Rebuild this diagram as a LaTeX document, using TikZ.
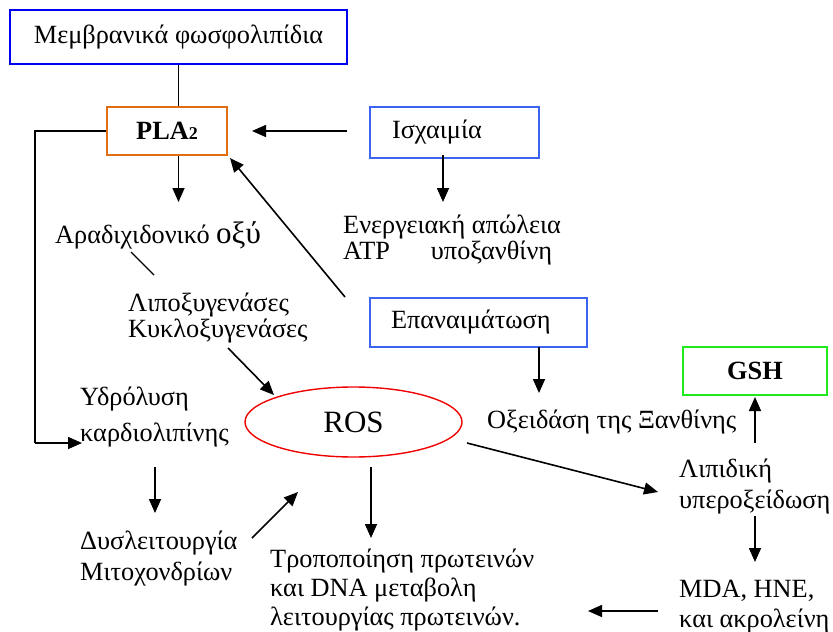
\documentclass[tikz,border=0pt]{standalone}
\usepackage{fontspec}
\setmainfont{Liberation Serif}
\usetikzlibrary{arrows.meta,shapes.geometric,calc}
\definecolor{bxblue}{RGB}{0,0,240}
\definecolor{bxlblue}{RGB}{60,100,240}
\definecolor{bxorange}{RGB}{225,110,20}
\definecolor{bxgreen}{RGB}{30,235,30}
\definecolor{bxred}{RGB}{240,0,0}
\begin{document}
\begin{tikzpicture}[x=1pt,y=-1pt,
  txt/.style={font=\fontsize{26.3}{#1}\selectfont, inner sep=0pt, anchor=base west, align=left},
  txt/.default=30,
  bx/.style={draw, line width=1.6pt, inner sep=0pt, font=\fontsize{26.3}{28}\selectfont},
  arr/.style={-{Triangle[length=14pt,width=12pt]}, line width=1.6pt},
  ln/.style={line width=1.4pt}]
\useasboundingbox (0,0) rectangle (833,632);
% boxes
\node[bx, draw=bxblue, minimum width=337pt, minimum height=54pt] (memb) at (178.5,37) {Μεμβρανικά φωσφολιπίδια};
\node[bx, draw=bxorange, minimum width=120pt, minimum height=48pt] (pla) at (167,131) {\bfseries PLA{\fontsize{18}{18}\selectfont 2}};
\node[bx, draw=bxlblue, minimum width=169pt, minimum height=51pt, text width=125pt, align=left] (isch) at (454.5,132.5) {Ισχαιμία};
\node[bx, draw=bxlblue, minimum width=217pt, minimum height=49pt, text width=175pt, align=left] (epan) at (478.5,322.5) {Επαναιμάτωση};
\node[bx, draw=bxgreen, minimum width=144pt, minimum height=48pt] (gsh) at (755,371) {\bfseries GSH};
\node[ellipse, draw=bxred, line width=1.4pt, minimum width=217pt, minimum height=70pt, inner sep=0pt, font=\fontsize{31}{31}\selectfont] (ros) at (353.5,422) {ROS};
% texts (anchor at the baseline of the last line)
\node[txt=24] (energ) at (343,259) {Ενεργειακή απώλεια\\ATP\hspace{41pt}υποξανθίνη};
\node[txt] (arad) at (55,243) {Αραδιχιδονικό {\fontsize{31}{31}\selectfont οξύ}};
\node[txt=24] (lipo) at (128,337) {Λιποξυγενάσες\\Κυκλοξυγενάσες};
\node[txt=36] (hydro) at (80,441) {Υδρόλυση\\καρδιολιπίνης};
\node[txt=31] (dys) at (80,580) {Δυσλειτουργία\\Μιτοχονδρίων};
\node[txt=29] (tropo) at (270,625) {Τροποποίηση πρωτεινών\\και DNA μεταβολη\\λειτουργίας πρωτεινών.};
\node[txt] (oxid) at (487,428) {Οξειδάση της Ξανθίνης};
\node[txt=31] (lipid) at (679,508) {Λιπιδική\\υπεροξείδωση};
\node[txt=30] (mda) at (679,627) {MDA, HNE,\\και ακρολείνη};
% connector coordinates
\coordinate (loopc) at (35,443);
\coordinate (hyin) at (82,443);
\coordinate (a1) at (131,252);
\coordinate (a2) at (154,275);
\coordinate (ep1) at (345,297);
\coordinate (pl1) at (230,158);
\coordinate (k1) at (228,348);
\coordinate (r1) at (274,395);
\coordinate (r2) at (467,443);
\coordinate (l1) at (658,492);
\coordinate (d1) at (252,538);
\coordinate (r3) at (298,492);
% connectors
\draw[ln] (memb.south) -- (memb.south |- pla.north);
\draw[arr] (memb.south |- pla.south) -- (178.5,202);
\draw[arr] (347,131) -- (252,131);
\draw[ln] (pla.west) -| (loopc);
\draw[arr] (loopc) -- (hyin);
\draw[arr] (443,155) -- (443,202);
\draw[ln] (a1) -- (a2);
\draw[arr] (ep1) -- (pl1);
\draw[arr] (k1) -- (r1);
\draw[arr] (539,347) -- (539,393);
\draw[arr] (r2) -- (l1);
\draw[arr] (755,443) -- (755,397);
\draw[arr] (755,516) -- (755,562);
\draw[arr] (658,611) -- (588,611);
\draw[arr] (155,467) -- (155,513);
\draw[arr] (d1) -- (r3);
\draw[arr] (371,467) -- (371,538);
\end{tikzpicture}
\end{document}
